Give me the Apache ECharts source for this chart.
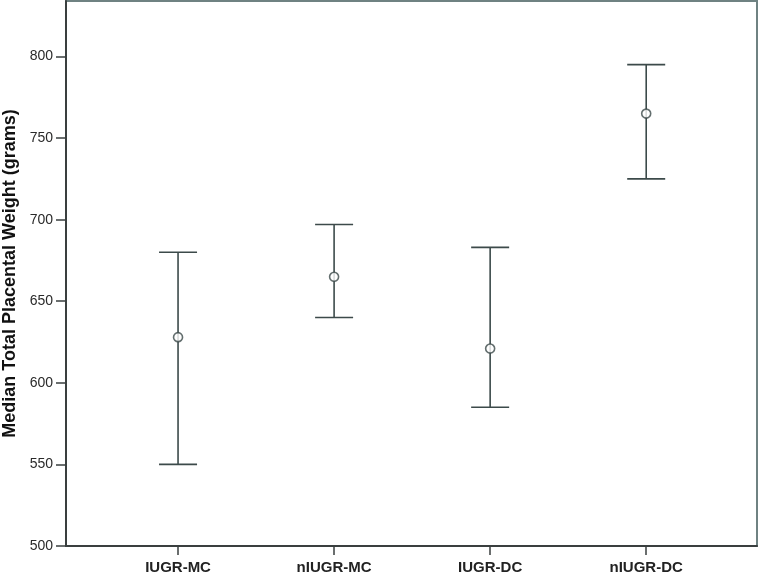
<!DOCTYPE html>
<html>
<head>
<meta charset="utf-8">
<script src="https://cdn.jsdelivr.net/npm/echarts@6/dist/echarts.min.js"></script>
<style>html,body{margin:0;padding:0;background:#fff;}#c{width:760px;height:573px;}</style>
</head>
<body>
<div id="c"></div>
<script>
const categories = ['IUGR-MC', 'nIUGR-MC', 'IUGR-DC', 'nIUGR-DC'];
const medians = [628, 665, 621, 765];
const lows = [550, 640, 585, 725];
const highs = [680, 697, 683, 795];
const yTicks = [500, 550, 600, 650, 700, 750, 800];

const positions = categories.map((c, i) => i + 1);
const barData = positions.map((p, i) => [p, lows[i], highs[i]]);
const pointData = positions.map((p, i) => [p, medians[i]]);
const lineColor = '#3c4a4a';

const chart = echarts.init(document.getElementById('c'));
chart.setOption({
  animation: false,
  grid: { left: 66, right: 3, top: 1, bottom: 27, containLabel: false, outerBoundsMode: 'none', show: true, borderColor: '#6f8282', borderWidth: 2, backgroundColor: '#fff' },
  xAxis: {
    type: 'value', min: 0.282, max: 4.71,
    splitLine: { show: false },
    axisLine: { show: true, onZero: false, lineStyle: { color: '#3a3f3f', width: 2 } },
    axisTick: { show: true, customValues: positions, length: 9, lineStyle: { color: '#3a3f3f', width: 1.5 } },
    axisLabel: { customValues: positions, formatter: v => categories[Math.round(v) - 1] || '', color: '#222', fontWeight: 'bold', fontSize: 15, fontFamily: 'Liberation Sans, Arial', margin: 14 }
  },
  yAxis: {
    type: 'value', min: 500, max: 834,
    name: 'Median Total Placental Weight (grams)', nameLocation: 'middle', nameGap: 47,
    nameTextStyle: { fontWeight: 'bold', fontSize: 18, color: '#111', fontFamily: 'Liberation Sans, Arial' },
    splitLine: { show: false },
    axisLine: { show: true, lineStyle: { color: '#3a3f3f', width: 2 } },
    axisTick: { show: true, customValues: yTicks, length: 10, lineStyle: { color: '#3a3f3f', width: 1.5 } },
    axisLabel: { customValues: yTicks, color: '#2a2a2a', fontSize: 14, fontFamily: 'Liberation Sans, Arial', margin: 13 }
  },
  series: [
    {
      type: 'custom',
      data: barData,
      renderItem: function (params, api) {
        const x = api.value(0);
        const lo = api.coord([x, api.value(1)]);
        const hi = api.coord([x, api.value(2)]);
        const w = 19;
        const style = { stroke: lineColor, lineWidth: 1.6 };
        return {
          type: 'group',
          children: [
            { type: 'line', shape: { x1: hi[0], y1: hi[1], x2: lo[0], y2: lo[1] }, style: style },
            { type: 'line', shape: { x1: hi[0] - w, y1: hi[1], x2: hi[0] + w, y2: hi[1] }, style: style },
            { type: 'line', shape: { x1: lo[0] - w, y1: lo[1], x2: lo[0] + w, y2: lo[1] }, style: style }
          ]
        };
      },
      z: 2
    },
    {
      type: 'scatter',
      data: pointData,
      symbol: 'circle',
      symbolSize: 9,
      itemStyle: { color: '#fff', borderColor: lineColor, borderWidth: 1.6 },
      z: 3
    }
  ]
});
</script>
</body>
</html>
